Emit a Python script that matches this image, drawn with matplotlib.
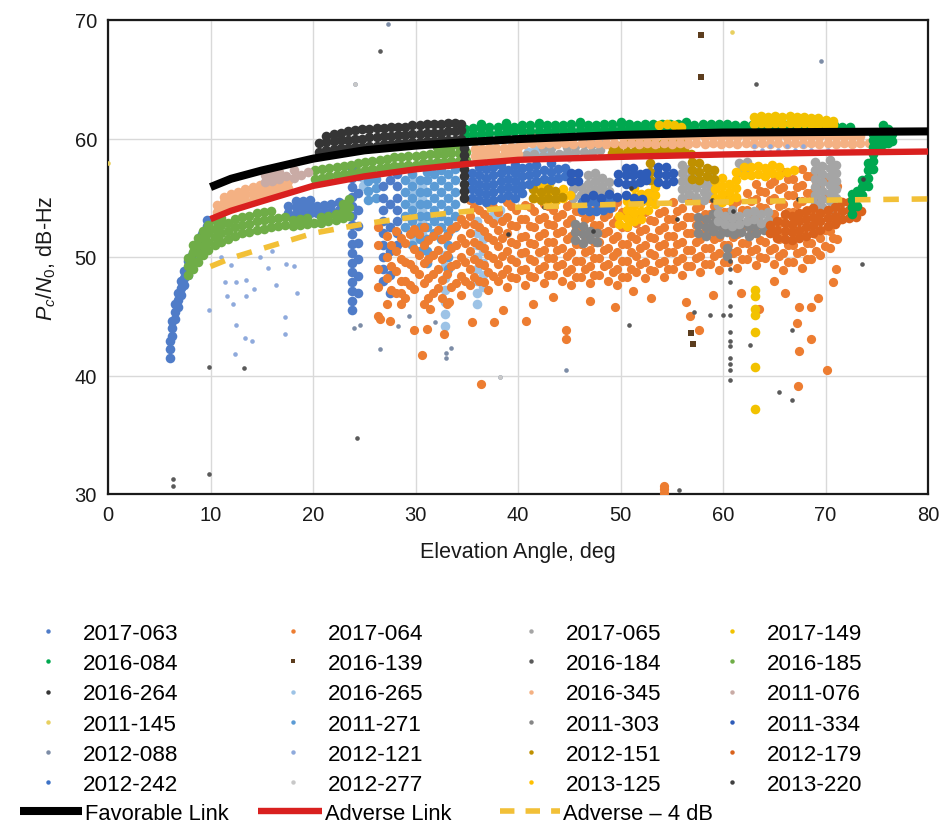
import matplotlib
matplotlib.use('Agg')
import matplotlib.pyplot as plt
from matplotlib.lines import Line2D

plt.rcParams['font.family'] = ['Liberation Sans', 'DejaVu Sans']
plt.rcParams['mathtext.fontset'] = 'custom'
plt.rcParams['mathtext.rm'] = 'Liberation Sans'
plt.rcParams['mathtext.it'] = 'Liberation Sans:italic'

# ---------------- axis text ----------------
x_ticks = [0, 10, 20, 30, 40, 50, 60, 70, 80]
y_ticks = [30, 40, 50, 60, 70]
x_label = 'Elevation Angle, deg'
y_label = r'$P_c/N_0$, dB-Hz'

# ---------------- reference curves ----------------
curve_x = [10, 12, 15, 20, 25, 30, 35, 40, 50, 60, 70, 80]
favorable_y = [55.9, 56.6, 57.3, 58.3, 59.0, 59.4, 59.7, 59.95, 60.3, 60.5, 60.55, 60.6]
adverse_y = [53.2, 53.9, 54.7, 56.0, 56.8, 57.4, 57.85, 58.2, 58.45, 58.65, 58.8, 58.9]
adverse4_y = [49.2, 49.9, 50.7, 52.0, 52.8, 53.4, 53.85, 54.2, 54.45, 54.65, 54.8, 54.9]
line_labels = ['Favorable Link', 'Adverse Link', 'Adverse \u2013 4 dB']

# ---------------- pass labels (legend order) ----------------
series_names = ['2017-063', '2017-064', '2017-065', '2017-149',
                '2016-084', '2016-139', '2016-184', '2016-185',
                '2016-264', '2016-265', '2016-345', '2011-076',
                '2011-145', '2011-271', '2011-303', '2011-334',
                '2012-088', '2012-121', '2012-151', '2012-179',
                '2012-242', '2012-277', '2013-125', '2013-220']

# ---------------- measured points: (elevation, [Pc/N0 values]) ----------------
s2017_063 = [
    (6.0, [41.5, 42.2, 42.9]), (6.2, [43.3, 44.0, 44.6]), (6.5, [44.8, 45.4, 46.0]),
    (6.8, [45.8, 46.4, 47.0]), (7.1, [46.8, 47.4, 48.0]), (7.4, [47.6, 48.2, 48.8]),
    (7.8, [48.5, 49.1, 49.7]), (8.2, [49.6, 50.2]), (8.7, [50.5, 51.1]),
    (9.2, [51.3, 51.9]), (9.7, [52.0, 52.6, 53.1]),
    (17.6, [53.7, 54.3]), (18.3, [53.6, 54.2, 54.7]), (19.0, [53.6, 54.2, 54.7]),
    (19.7, [53.7, 54.3, 54.8]), (20.4, [53.7, 54.3]), (21.1, [53.8, 54.4]),
    (21.8, [53.9, 54.5]), (22.5, [54.0, 54.6]),
    (23.8, [45.5, 46.3, 47.1, 47.9, 48.7, 49.5, 50.3, 51.1, 51.9, 52.7, 53.5, 54.3, 55.1, 55.9, 56.7, 57.5]),
    (24.4, [47.0, 48.4, 49.8, 51.2, 52.6, 54.0, 55.4, 56.8]),
    (26.8, [48.0, 49.0, 50.0, 51.0, 52.0, 53.0, 54.0, 55.0, 56.0]),
    (27.5, [47.0, 48.5, 50.5, 52.5, 54.5, 56.5]),
    (28.2, [51.0, 52.0, 53.0, 54.0, 55.0, 56.0, 57.0]),
]
s2017_064 = [
    (26.3, [45.0, 47.5, 49.0, 51.0, 52.5]), (27.2, [46.0, 48.2, 50.0, 51.8]),
    (28.1, [47.0, 48.8, 50.5, 52.2]), (29.0, [46.5, 48.0, 49.6, 51.2]),
    (29.9, [47.3, 49.0, 50.7, 52.4]), (30.8, [46.0, 47.8, 49.5, 51.0, 52.5]),
    (31.7, [47.0, 48.6, 50.2, 51.8]), (32.6, [46.5, 48.1, 49.8, 51.5]),
    (33.5, [47.5, 49.2, 50.8, 52.4]), (34.4, [46.8, 48.4, 50.0, 51.6, 53.2]),
    (35.3, [47.6, 49.0, 50.5, 52.0, 53.5, 54.8]), (36.2, [48.0, 49.5, 51.0, 52.5, 54.0]),
    (37.1, [47.2, 48.7, 50.2, 51.7, 53.2, 54.5]), (38.0, [48.0, 49.4, 50.9, 52.3, 53.8]),
    (38.9, [47.5, 49.0, 50.5, 52.0, 53.4, 54.6]), (39.8, [48.2, 49.6, 51.1, 52.6, 54.0]),
    (40.7, [47.6, 49.0, 50.4, 51.8, 53.2, 54.4]), (41.6, [48.3, 49.7, 51.1, 52.5, 53.9]),
    (42.5, [47.8, 49.2, 50.6, 52.0, 53.4, 54.5]), (43.4, [48.5, 49.9, 51.3, 52.7, 54.0]),
    (44.3, [48.0, 49.4, 50.8, 52.2, 53.6]), (45.2, [47.6, 49.0, 50.4, 51.8, 53.2, 54.5]),
    (46.1, [48.3, 49.7, 51.1, 52.5, 53.8]), (47.0, [47.8, 49.2, 50.6, 52.0, 53.4]),
    (47.9, [48.5, 49.9, 51.3, 52.7, 54.1]), (48.8, [48.0, 49.4, 50.8, 52.2, 53.6]),
    (49.7, [47.6, 49.0, 50.4, 51.8, 53.2, 54.6]), (50.6, [48.3, 49.7, 51.1, 52.5, 53.9]),
    (51.5, [48.7, 50.1, 51.5, 52.9]), (52.4, [48.2, 49.6, 51.0, 52.4, 53.8]),
    (53.3, [48.8, 50.2, 51.6, 53.0]), (54.2, [48.3, 49.7, 51.1, 52.5, 53.9]),
    (55.1, [49.0, 50.4, 51.8, 53.2, 54.6]), (56.0, [48.5, 49.9, 51.3, 52.7, 54.1]),
    (56.9, [49.2, 50.6, 52.0, 53.4, 54.8]), (57.8, [48.7, 50.1, 51.5, 52.9, 54.3]),
    (58.7, [49.4, 50.8, 52.2, 53.6, 55.0]), (59.6, [48.9, 50.3, 51.7, 53.1, 54.5]),
    (60.5, [49.6, 51.0, 52.4, 53.8, 55.2]), (61.4, [49.1, 50.5, 51.9, 53.3, 54.7]),
    (62.3, [49.8, 51.2, 52.6, 54.0, 55.4]), (63.2, [49.3, 50.7, 52.1, 53.5, 54.9, 56.2]),
    (64.1, [49.9, 51.3, 52.7, 54.1, 55.5, 56.8]), (65.0, [49.4, 50.8, 52.2, 53.6, 55.0, 56.4]),
    (65.9, [48.9, 50.3, 51.7, 53.1, 54.5, 55.9, 57.2]), (66.8, [49.6, 51.0, 52.4, 53.8, 55.2, 56.6]),
    (67.7, [49.1, 50.5, 51.9, 53.3, 54.7, 56.1, 57.4]), (68.6, [49.8, 51.2, 52.6, 54.0, 55.4, 56.8]),
    (69.5, [50.2, 51.6, 53.0, 54.4, 55.8, 57.2]), (70.4, [50.8, 52.2, 53.6, 55.0, 56.4]),
    (71.1, [51.5, 53.0, 54.5, 56.0]),
    (27.65, [47.2, 49.2, 51.0]), (28.55, [46.0, 48.0, 49.8, 51.6]), (29.45, [47.6, 49.4, 51.9]),
    (30.35, [48.6, 50.2, 51.9]), (31.25, [46.5, 48.2, 49.8, 51.4]), (32.15, [47.4, 49.0, 50.6, 52.3]),
    (33.05, [46.0, 48.6, 50.2, 51.8]), (33.95, [47.8, 49.4, 51.0, 52.6]),
    (34.85, [48.0, 49.6, 51.2, 52.8]), (35.75, [48.3, 49.8, 51.3, 52.8, 54.2]),
    (36.65, [47.9, 49.3, 50.8, 52.2, 53.6]), (37.55, [48.4, 49.9, 51.4, 52.9, 54.2]),
    (38.45, [48.6, 50.1, 51.6, 53.0]), (39.35, [48.3, 49.8, 51.3, 52.7, 54.3]),
    (40.25, [48.9, 50.3, 51.7, 53.2]), (41.15, [48.4, 49.8, 51.2, 52.6, 54.2]),
    (42.05, [49.0, 50.4, 51.8, 53.2]), (42.95, [48.5, 49.9, 51.3, 52.8, 54.3]),
    (43.85, [49.2, 50.6, 52.0, 53.4]), (44.75, [48.7, 50.1, 51.5, 52.9, 54.3]),
    (45.65, [48.3, 49.7, 51.1, 52.5, 53.9]), (46.55, [49.0, 50.4, 51.8, 53.2]),
    (47.45, [48.5, 49.9, 51.3, 52.7, 54.0]), (48.35, [49.2, 50.6, 52.0, 53.4]),
    (49.25, [48.7, 50.1, 51.5, 52.9, 54.2]), (50.15, [48.3, 49.7, 51.1, 52.5, 53.8]),
    (51.05, [49.0, 50.4, 51.8, 53.2]), (51.95, [49.4, 50.8, 52.2, 53.6]),
    (52.85, [48.9, 50.3, 51.7, 53.1]), (53.75, [49.5, 50.9, 52.3, 53.7]),
    (54.65, [49.0, 50.4, 51.8, 53.2]), (55.55, [49.7, 51.1, 52.5, 53.9]),
    (56.45, [49.2, 50.6, 52.0, 53.4]), (57.35, [49.9, 51.3, 52.7, 54.1]),
    (58.25, [49.4, 50.8, 52.2, 53.6]), (59.15, [50.1, 51.5, 52.9, 54.3]),
    (60.05, [49.6, 51.0, 52.4, 53.8]), (60.95, [50.3, 51.7, 53.1, 54.5]),
    (61.85, [49.8, 51.2, 52.6, 54.0]), (62.75, [50.5, 51.9, 53.3, 54.7]),
    (63.65, [50.0, 51.4, 52.8, 54.2, 55.6]), (64.55, [50.6, 52.0, 53.4, 54.8, 56.2]),
    (65.45, [50.1, 51.5, 52.9, 54.3, 55.7]), (66.35, [49.6, 51.0, 52.4, 53.8, 55.2, 56.6]),
    (67.25, [50.3, 51.7, 53.1, 54.5, 55.9]), (68.15, [49.8, 51.2, 52.6, 54.0, 55.4, 56.8]),
    (69.05, [50.5, 51.9, 53.3, 54.7, 56.1]), (69.95, [50.9, 52.3, 53.7, 55.1, 56.5]),
    (70.75, [51.6, 53.0, 54.4, 55.8]),
    (26.5, [44.8]), (27.5, [44.6]), (29.9, [43.8]), (31.1, [43.9]), (30.6, [41.7]),
    (36.4, [39.3]), (32.8, [43.5]), (35.5, [44.5]), (37.7, [44.5]), (28.6, [47.0]),
    (40.8, [44.6]), (44.7, [43.8, 43.1]), (51.2, [47.1]), (56.4, [46.2]), (67.2, [44.4]),
    (68.6, [43.1, 45.8]), (67.4, [42.1, 45.8]), (67.3, [39.1]), (70.1, [40.5]),
    (54.2, [30.1, 30.4, 30.7]), (70.7, [47.9]), (65.0, [48.0]), (38.5, [45.5]),
    (41.5, [46.0]), (47.0, [46.3]), (49.5, [45.8]), (53.0, [46.5]), (56.8, [45.0]),
    (59.0, [46.8]), (61.8, [47.0]), (63.5, [45.6]), (66.0, [47.0]), (69.3, [46.5]),
    (71.0, [49.0]), (33.3, [46.2]), (31.4, [45.6]), (43.4, [46.6]), (57.7, [43.8]),
]
s2017_065 = [
    (45.4, [55.0, 55.7, 56.4]), (46.1, [55.2, 55.9]), (46.8, [55.5, 56.2, 56.9]),
    (47.5, [55.0, 55.7, 56.4, 57.1]), (48.2, [55.3, 56.0, 56.7]), (48.9, [55.6, 56.3]),
    (53.0, [54.7, 55.4]), (56.0, [55.0, 55.7, 56.4, 57.1, 57.8]), (56.7, [55.3, 56.0, 56.7, 57.4]),
    (57.4, [55.1, 55.8, 56.5, 57.2]), (58.1, [54.8, 55.5, 56.2]), (58.8, [55.2, 55.9, 56.6, 57.3]),
    (59.5, [53.0, 53.7, 54.4]), (60.2, [52.8, 53.5]), (60.9, [52.6, 53.3, 54.0]),
    (61.6, [52.8, 53.5, 57.2, 57.9]), (62.3, [53.0, 53.7, 57.4, 58.0]), (63.0, [53.2, 53.9]),
    (63.7, [52.9, 53.6]), (64.4, [53.1, 53.8]),
    (69.0, [54.5, 55.2, 55.9, 56.6, 57.3, 58.0]), (69.7, [54.2, 54.9, 55.6, 56.3, 57.0, 57.7]),
    (70.4, [54.0, 54.7, 55.4, 56.1, 56.8, 57.5, 58.2]), (71.0, [55.0, 55.7, 56.4, 57.1, 57.8]),
    (40.8, [58.6]), (41.6, [58.7]), (42.4, [58.5, 59.2]), (43.2, [58.6, 59.2]), (44.0, [58.7]),
    (44.8, [58.8, 59.3]), (45.6, [58.9, 59.4]), (46.4, [58.9, 59.5]), (47.2, [58.9, 59.5]),
    (48.0, [59.0, 59.5]),
]
s2017_149 = [
    (63.0, [61.2, 61.8]), (63.7, [61.3, 61.9]), (64.4, [61.2, 61.8]), (65.1, [61.3, 61.9]),
    (65.8, [61.2, 61.8]), (66.5, [61.3, 61.9]), (67.2, [61.2, 61.8]), (67.9, [61.3, 61.8]),
    (68.6, [61.2, 61.7]), (69.3, [61.2, 61.7]), (70.0, [61.1, 61.6]), (70.7, [61.1, 61.5]),
    (53.8, [61.1]), (54.5, [61.2]), (55.2, [61.1]), (55.9, [61.0]),
    (63.1, [47.2, 46.7, 45.6, 45.1, 43.7, 40.7, 37.2]),
]
s2016_084 = [
    (34.8, [60.3, 60.8]), (35.6, [60.4, 60.9]), (36.4, [60.4, 60.9, 61.2]), (37.2, [60.5, 61.0]),
    (38.0, [60.5, 61.0]), (38.8, [60.5, 61.0, 61.3]), (39.6, [60.6, 61.0]), (40.4, [60.6, 61.1]),
    (41.2, [60.6, 61.1]), (42.0, [60.6, 61.1, 61.3]), (42.8, [60.6, 61.1]), (43.6, [60.7, 61.1]),
    (44.4, [60.7, 61.1]), (45.2, [60.7, 61.2]), (46.0, [60.7, 61.2, 61.4]), (46.8, [60.7, 61.1]),
    (47.6, [60.7, 61.1]), (48.4, [60.7, 61.2]), (49.2, [60.8, 61.2]), (50.0, [60.8, 61.2, 61.4]),
    (50.8, [60.8, 61.2]), (51.6, [60.8, 61.1]), (52.4, [60.8, 61.2]), (53.2, [60.8, 61.2]),
    (54.0, [60.8, 61.2]), (54.8, [60.8, 61.2]), (55.6, [60.8, 61.2]), (56.4, [60.8, 61.2, 61.4]),
    (57.2, [60.8, 61.1]), (58.0, [60.8, 61.2]), (58.8, [60.8, 61.2]), (59.6, [60.8, 61.2]),
    (60.4, [60.8, 61.2]), (61.2, [60.8, 61.1]), (62.0, [60.8, 61.1]), (62.8, [60.8, 61.1]),
    (63.6, [60.8, 61.1]), (64.4, [60.8, 61.1]), (65.2, [60.8, 61.1]), (66.0, [60.8, 61.1]),
    (66.8, [60.8, 61.1]), (67.6, [60.8, 61.1]), (68.4, [60.8, 61.1]), (69.2, [60.8, 61.1]),
    (70.0, [60.8, 61.1]), (70.8, [60.8, 61.1]), (71.6, [60.8, 61.0]), (72.4, [60.8, 61.0]),
    (72.6, [53.6, 54.2, 54.8, 55.3]), (73.1, [54.3, 55.0, 55.6]), (73.6, [55.2, 55.9, 56.5]),
    (74.1, [56.0, 56.7, 57.3, 57.9]), (74.6, [57.4, 58.1, 58.7, 59.3, 59.9, 60.4]),
    (75.1, [59.3, 59.9, 60.5]), (75.6, [59.5, 60.1, 60.7, 61.1]), (76.1, [59.6, 60.2, 60.8]),
    (76.5, [59.8, 60.4]),
]
s2016_139 = [(57.9, [68.7, 65.2]), (56.9, [43.6]), (57.1, [42.7])]
s2016_184 = [
    (26.5, [67.4]), (63.2, [64.6]),
    (60.7, [49.7, 49.0, 47.9, 45.9, 45.1, 43.7, 42.9, 42.5, 41.5, 41.0, 40.5, 39.6]),
    (66.7, [43.8, 37.9]), (65.5, [38.6]), (73.6, [49.4]), (24.3, [34.7]), (9.9, [31.7, 40.7]),
    (6.3, [31.3, 30.7]), (13.3, [40.6]), (55.7, [30.3]), (50.8, [44.3]), (58.7, [45.1]),
    (60.0, [45.1]), (62.6, [42.6]), (57.2, [45.4]),
]
s2016_185 = [
    (7.8, [48.5, 49.2, 49.9]), (8.3, [49.0, 49.7, 50.4, 51.0]), (8.8, [49.6, 50.3, 51.0, 51.6]),
    (9.3, [50.2, 50.9, 51.6, 52.2]), (9.8, [50.6, 51.3, 52.0, 52.7]), (10.4, [51.0, 51.7, 52.4, 53.1]),
    (11.0, [51.3, 52.0, 52.7, 53.3]), (11.7, [51.5, 52.2, 52.9]), (12.4, [51.8, 52.5, 53.2]),
    (13.1, [52.0, 52.7, 53.4]), (13.8, [52.1, 52.8, 53.5]), (14.5, [52.3, 53.0, 53.7]),
    (15.2, [52.4, 53.1, 53.8]), (15.9, [52.5, 53.2, 53.9]), (16.6, [52.6, 53.3]),
    (17.3, [52.7, 53.4]), (18.0, [52.6, 53.1]), (18.7, [52.7, 53.2]), (19.4, [52.8, 53.3]),
    (20.1, [52.9]), (20.8, [52.9, 53.4]), (21.5, [53.0, 53.5]), (22.2, [53.1, 53.6]),
    (22.9, [53.3, 53.9, 54.5]), (23.5, [53.5, 54.2, 54.9]),
    (20.2, [56.6, 57.3]), (20.9, [56.7, 57.4]), (21.6, [56.8, 57.5]), (22.3, [56.9, 57.6]),
    (23.0, [57.0, 57.7]), (23.7, [57.1, 57.8]), (24.4, [57.2, 57.9]), (25.1, [57.3, 58.0]),
    (25.8, [57.4, 58.1]), (26.5, [57.5, 58.2]), (27.2, [57.6, 58.3]), (27.9, [57.7, 58.4]),
    (28.6, [57.7, 58.4]), (29.3, [57.8, 58.5]), (30.0, [57.8, 58.5]), (30.7, [57.9, 58.6]),
    (31.4, [57.9, 58.7]), (32.1, [58.0, 58.7, 59.3]), (32.8, [58.0, 58.7, 59.3]),
    (33.5, [58.1, 58.8, 59.4]), (34.2, [58.1, 58.8, 59.4]), (34.9, [58.2, 58.9]),
]
s2016_264 = [
    (20.6, [58.9, 59.6]), (21.3, [59.0, 59.7, 60.2]), (22.0, [59.1, 59.8, 60.4]),
    (22.7, [59.2, 59.9, 60.5]), (23.4, [59.2, 59.9, 60.6]), (24.1, [59.3, 60.0, 60.7]),
    (24.8, [59.3, 60.0, 60.8]), (25.5, [59.4, 60.1, 60.8]), (26.2, [59.4, 60.1, 60.9]),
    (26.9, [59.5, 60.2, 60.9]), (27.6, [59.5, 60.2, 61.0]), (28.3, [59.6, 60.3, 61.0]),
    (29.0, [59.6, 60.3, 61.0]), (29.7, [59.7, 60.4, 61.1]), (30.4, [59.7, 60.4, 61.1]),
    (31.1, [59.8, 60.5, 61.2]), (31.8, [59.8, 60.5, 61.2]), (32.5, [59.9, 60.5, 61.2]),
    (33.2, [59.9, 60.6, 61.3]), (33.9, [59.9, 60.6, 61.3]), (34.4, [60.0, 60.7, 61.2]),
    (34.7, [55.0, 55.6, 56.2, 56.8, 57.4, 58.0, 58.6, 59.2]),
]
s2016_265 = [
    (29.9, [51.4, 52.4, 53.4, 54.4, 55.4, 56.4]), (30.6, [51.9, 52.9, 53.9, 54.9, 55.9]),
    (32.9, [44.2, 45.2, 46.2, 47.2, 48.2, 49.2, 50.2]),
    (36.0, [46.0, 47.0, 48.0, 49.0, 50.0, 51.0, 52.0, 53.0]), (36.6, [47.5, 48.5, 49.5, 50.5, 51.5]),
    (24.9, [56.0, 56.7]), (41.0, [58.4, 58.9]), (41.7, [58.5, 59.0]), (42.4, [58.9]),
    (37.5, [53.5, 54.2]), (38.2, [53.3, 54.0]),
]
s2016_345 = [
    (10.6, [53.8, 54.4]), (11.3, [54.0, 54.6, 55.1]), (12.0, [54.2, 54.8, 55.3]),
    (12.7, [54.4, 55.0, 55.5]), (13.4, [54.6, 55.2, 55.7]), (14.1, [54.8, 55.4, 55.9]),
    (14.8, [55.0, 55.6, 56.1]), (15.5, [55.2, 55.8]), (16.2, [55.4, 56.0]),
    (16.9, [55.6, 56.2]), (17.6, [55.8, 56.4]),
    (35.8, [58.5, 59.1]), (36.5, [58.5, 59.1]), (37.2, [58.6, 59.2]), (37.9, [58.6, 59.2]),
    (38.6, [58.6, 59.2]), (39.3, [58.7, 59.3]), (40.0, [58.7, 59.3]),
    (40.6, [59.5, 60.1]), (41.4, [59.6, 60.2]), (42.2, [59.5, 60.1]), (43.0, [59.6, 60.2]),
    (43.8, [59.5, 60.1]), (44.6, [59.6, 60.2]), (45.4, [59.5, 60.1]), (46.2, [59.6, 60.2]),
    (47.0, [59.5, 60.1]), (47.8, [59.6, 60.2]), (48.6, [59.5, 60.1]), (49.4, [59.6, 60.2]),
    (50.2, [59.5, 60.1]), (51.0, [59.6, 60.2]), (51.8, [59.5, 60.1]), (52.6, [59.6, 60.2]),
    (53.4, [59.5, 60.1]), (54.2, [59.6, 60.2]), (55.0, [59.5, 60.1]), (55.8, [59.6, 60.2]),
    (56.6, [59.5, 60.1]), (57.4, [59.6, 60.2]), (58.2, [59.5, 60.1]), (59.0, [59.6, 60.2]),
    (59.8, [59.5, 60.1]), (60.6, [59.6, 60.2]), (61.4, [59.5, 60.1]), (62.2, [59.6, 60.2]),
    (63.0, [59.5, 60.1]), (63.8, [59.6, 60.2]), (64.6, [59.5, 60.1]), (65.4, [59.6, 60.2]),
    (66.2, [59.5, 60.1]), (67.0, [59.6, 60.2]), (67.8, [59.5, 60.1]), (68.6, [59.6, 60.2]),
    (69.4, [59.5, 60.1]), (70.2, [59.6, 60.2]), (71.0, [59.5, 60.1]), (71.8, [59.6, 60.2]),
    (72.6, [59.5, 60.1]), (73.4, [59.6, 60.2]), (74.2, [59.6]),
]
s2011_076 = [
    (15.3, [56.3, 56.9]), (16.0, [56.4, 57.0]), (16.7, [56.6, 57.2]), (17.4, [56.8]),
    (18.1, [56.7, 57.3]), (18.8, [56.9]), (19.5, [57.2]),
]
s2011_145 = [(0.0, [57.9]), (60.9, [69.0])]
s2011_271 = [
    (29.0, [52.5, 53.5, 54.5, 55.5, 56.5]), (29.7, [51.0, 52.0, 53.0, 54.0, 55.0, 56.0, 57.0]),
    (30.4, [50.5, 51.5, 52.5, 53.5, 54.5, 55.5, 56.5]),
    (31.1, [49.5, 50.5, 51.5, 52.5, 53.5, 54.5, 55.5, 56.5, 57.2]),
    (31.8, [52.0, 53.0, 54.0, 55.0, 56.0, 57.0]), (32.5, [51.5, 52.5, 53.5, 54.5, 55.5, 56.5, 57.3]),
    (33.2, [49.0, 50.0, 51.0, 52.0, 53.0, 54.0, 55.0, 56.0, 57.0]),
    (33.9, [52.5, 53.5, 54.5, 55.5, 56.5, 57.4]),
    (25.4, [54.8, 55.6, 56.4]), (26.1, [55.0, 55.8, 56.6]),
]
s2011_303 = [
    (45.6, [51.4, 52.1, 52.8]), (46.3, [51.2, 51.9, 52.6]), (47.0, [51.5, 52.2]), (47.7, [51.3, 52.0]),
    (57.6, [52.0, 52.7, 53.4]), (58.3, [51.8, 52.5, 53.2]), (59.0, [52.2, 52.9, 53.6]),
    (59.7, [51.9, 52.6, 53.3]), (60.4, [50.1, 50.8, 52.1, 52.8, 53.5]), (61.1, [51.9, 52.6, 53.3]),
    (61.8, [52.1, 52.8]), (62.5, [51.8, 52.5]), (63.2, [52.0, 52.7]), (64.0, [52.3]),
]
s2011_334 = [
    (45.2, [56.4, 57.1]), (45.9, [56.4, 57.1]), (49.8, [56.3, 57.0]), (50.5, [56.2, 56.9, 57.5]),
    (51.2, [56.2, 56.9, 57.5]), (51.9, [56.3, 57.0]), (52.5, [56.5, 57.1]),
    (53.7, [56.3, 57.0, 57.6]), (54.4, [56.2, 56.9, 57.6]), (55.1, [56.4, 57.1]),
    (46.5, [55.0]), (47.3, [55.2]), (48.1, [55.0]), (48.9, [55.3]), (49.7, [55.1]),
    (50.5, [55.2]), (51.3, [55.0]), (52.1, [54.9]),
]
s2012_088 = [
    (24.1, [64.6]), (27.3, [69.7]), (69.6, [66.5]), (38.2, [39.9]), (44.7, [40.5]),
    (33.0, [41.5, 41.9]), (33.5, [42.3]), (26.5, [42.2]), (28.3, [44.2]), (24.0, [44.0]),
    (24.6, [44.3]), (29.4, [45.0]), (31.9, [44.5]),
]
s2012_121 = [
    (11.4, [47.9]), (12.5, [47.9, 44.3]), (13.5, [48.1, 46.7]), (11.6, [46.7]), (12.2, [46.0]),
    (14.2, [47.3]), (15.6, [49.1]), (16.4, [47.6]), (17.4, [49.4]), (18.1, [49.2]),
    (17.3, [44.9, 43.5]), (13.4, [43.2]), (14.0, [42.9]), (12.4, [41.8]), (9.9, [45.5]),
    (18.4, [47.0]), (11.0, [50.0]), (14.8, [50.0]), (16.0, [50.5]), (12.0, [49.3]),
    (63.0, [58.9, 59.4]), (63.8, [59.0]), (64.6, [58.9, 59.4]), (65.4, [59.0]),
    (66.2, [58.9, 59.4]), (67.0, [59.0]), (67.8, [58.9, 59.4]), (68.6, [59.0]),
    (69.4, [58.9]), (70.2, [59.0]),
]
s2012_151 = [
    (49.2, [58.8, 59.4]), (49.9, [58.8, 59.4]), (50.6, [58.9, 59.5]), (51.3, [58.9, 59.5]),
    (52.0, [58.9, 59.5]), (52.7, [59.0, 59.6]), (53.4, [59.0, 59.6]), (54.1, [59.0, 59.6]),
    (54.8, [59.0, 59.6]), (55.5, [59.1, 59.7]), (56.2, [59.1, 59.7]), (56.9, [58.7]),
    (52.9, [56.5, 57.2, 57.9]), (53.6, [56.4, 57.1]), (57.0, [56.6, 57.3, 58.0]),
    (57.7, [56.5, 57.2, 57.9]), (58.4, [56.8, 57.5]), (59.1, [56.6, 57.3]),
    (41.5, [55.0, 55.7]), (42.2, [54.8, 55.5]), (42.9, [55.0, 55.7]), (43.6, [54.9, 55.6]),
    (44.3, [55.1]),
]
s2012_179 = [
    (64.6, [52.0, 52.7]), (65.3, [51.6, 52.3, 53.0]), (66.0, [51.5, 52.2, 52.9, 53.6]),
    (66.7, [51.4, 52.1, 52.8, 53.5]), (67.4, [51.6, 52.3, 53.0, 53.7]),
    (68.1, [51.8, 52.5, 53.2, 53.9]), (68.8, [52.0, 52.7, 53.4, 54.1]),
    (69.5, [52.3, 53.0, 53.7]), (70.2, [52.6, 53.3, 54.0]), (70.9, [52.8, 53.5, 54.2]),
    (71.6, [53.2, 53.9, 54.6]), (72.3, [53.3, 54.0, 54.6]), (73.0, [53.4, 54.1]), (73.5, [53.9]),
]
s2012_242 = [
    (35.5, [55.0, 55.7, 56.4, 57.1]), (36.2, [54.8, 55.5, 56.2, 56.9, 57.6]),
    (36.9, [54.6, 55.3, 56.0, 56.7, 57.4]), (37.6, [54.8, 55.5, 56.2, 56.9, 57.6]),
    (38.3, [55.0, 55.7, 56.4, 57.1, 57.8]), (39.0, [55.2, 55.9, 56.6, 57.3]),
    (39.7, [55.0, 55.7, 56.4, 57.1, 57.8]), (40.4, [55.4, 56.1, 56.8, 57.5]),
    (41.1, [56.2, 56.9, 57.6]), (41.8, [56.4, 57.1, 57.8]), (42.5, [56.6, 57.3]),
    (43.2, [56.5, 57.2, 57.9]), (43.9, [56.7, 57.4]), (44.6, [56.8, 57.5]),
    (46.2, [54.0, 54.6]), (46.9, [53.9, 54.6]), (47.6, [53.9, 54.6]), (48.3, [54.0, 54.7]),
    (49.0, [54.1, 54.7]),
]
s2012_277 = [(24.1, [64.6]), (38.2, [39.9]), (45.0, [58.2])]
s2013_125 = [
    (41.6, [55.0, 55.7]), (42.3, [54.8, 55.5, 56.2]), (43.0, [54.9, 55.6, 56.2]),
    (43.7, [54.8, 55.5]), (44.4, [55.0, 55.7]), (45.1, [55.2]),
    (49.9, [52.8, 53.5]), (50.6, [52.6, 53.3, 54.0, 54.7]), (51.3, [53.0, 53.7, 54.4, 55.1, 55.8]),
    (52.0, [53.2, 53.9, 54.6, 55.3]), (52.7, [54.0, 54.7, 55.4]), (53.4, [54.5, 55.2, 55.9]),
    (59.2, [55.0, 55.7, 56.4]), (59.9, [54.6, 55.3, 56.0, 56.7]), (60.6, [54.8, 55.5, 56.2]),
    (61.3, [55.1, 55.8, 56.5, 57.2]), (62.0, [56.9, 57.6]), (62.7, [56.9, 57.6]),
    (63.4, [57.0, 57.7]), (64.1, [56.8, 57.5]), (64.8, [57.1, 57.8]), (65.5, [56.9, 57.6]),
    (66.2, [57.2]), (66.9, [57.3]),
]
s2013_220 = [
    (42.5, [54.2]), (51.0, [55.8]), (58.9, [54.8]), (67.3, [54.9]), (73.7, [56.6]),
    (47.3, [52.2]), (61.0, [53.9]), (55.5, [53.2]), (39.0, [51.9]),
]

series_points = {
    '2017-063': s2017_063, '2017-064': s2017_064, '2017-065': s2017_065, '2017-149': s2017_149,
    '2016-084': s2016_084, '2016-139': s2016_139, '2016-184': s2016_184, '2016-185': s2016_185,
    '2016-264': s2016_264, '2016-265': s2016_265, '2016-345': s2016_345, '2011-076': s2011_076,
    '2011-145': s2011_145, '2011-271': s2011_271, '2011-303': s2011_303, '2011-334': s2011_334,
    '2012-088': s2012_088, '2012-121': s2012_121, '2012-151': s2012_151, '2012-179': s2012_179,
    '2012-242': s2012_242, '2012-277': s2012_277, '2013-125': s2013_125, '2013-220': s2013_220,
}

# ---------------- styles ----------------
colors = {
    '2017-063': '#4F7CC8', '2017-064': '#ED7D31', '2017-065': '#A5A5A5', '2017-149': '#F2C200',
    '2016-084': '#00A84F', '2016-139': '#5C3D1E', '2016-184': '#5A5A5A', '2016-185': '#6FAD47',
    '2016-264': '#353535', '2016-265': '#9DC3E6', '2016-345': '#F4B183', '2011-076': '#C9ABA5',
    '2011-145': '#E8D060', '2011-271': '#5B9BD5', '2011-303': '#868686', '2011-334': '#2E5CB8',
    '2012-088': '#7C8CA6', '2012-121': '#8FAADC', '2012-151': '#BF9000', '2012-179': '#D9621C',
    '2012-242': '#3D72C6', '2012-277': '#C8C8C8', '2013-125': '#FFC000', '2013-220': '#404040',
}
sparse = {'2016-184', '2016-139', '2011-145', '2012-088', '2012-277', '2013-220', '2012-121'}
draw_order = ['2016-265', '2011-271', '2017-063', '2012-121', '2017-064', '2011-303', '2017-065',
              '2013-125', '2012-151', '2012-242', '2011-334', '2012-179', '2016-185', '2016-345',
              '2011-076', '2016-084', '2016-264', '2017-149', '2016-184', '2016-139', '2011-145',
              '2012-088', '2012-277', '2013-220']


def expand(cols):
    xs, ys = [], []
    for x, yl in cols:
        for y in yl:
            xs.append(x)
            ys.append(y)
    return xs, ys


fig = plt.figure(figsize=(9.44, 8.28), dpi=100)
ax = fig.add_axes([108 / 944, 1 - 495 / 828, (928 - 108) / 944, (495 - 21) / 828])

for name in draw_order:
    xs, ys = expand(series_points[name])
    if name == '2016-139':
        ax.scatter(xs, ys, s=22, marker='s', color=colors[name], linewidths=0, zorder=4)
    elif name in sparse:
        ax.scatter(xs, ys, s=11, color=colors[name], linewidths=0, zorder=4)
    else:
        size = 44 if name == '2017-064' else 48
        ax.scatter(xs, ys, s=size, color=colors[name], linewidths=0, zorder=3)

ax.plot(curve_x, favorable_y, color='black', lw=5.8, solid_capstyle='butt', zorder=6)
ax.plot(curve_x, adverse_y, color='#D9201F', lw=4.6, solid_capstyle='butt', zorder=6)
ax.plot(curve_x, adverse4_y, color='#F2C037', lw=4.0, dashes=(2.8, 2.3),
        dash_capstyle='butt', zorder=6)

ax.set_xlim(0, 80)
ax.set_ylim(30, 70)
ax.set_xticks(x_ticks)
ax.set_yticks(y_ticks)
ax.tick_params(length=0, labelsize=14.5, pad=8, colors='#1a1a1a')
ax.grid(True, color='#D9D9D9', lw=1.0, zorder=0)
ax.set_axisbelow(True)
for sp in ax.spines.values():
    sp.set_color('#1a1a1a')
    sp.set_linewidth(1.6)
ax.set_xlabel(x_label, fontsize=15.5, labelpad=12, color='#1a1a1a')
ax.set_ylabel(y_label, fontsize=15.5, labelpad=12, color='#1a1a1a')

# ---------------- legend: 4 columns of passes ----------------
col_marker_px = [48, 293, 531, 732]
fs_leg = 16.2
fs_px = fs_leg * 100 / 72
for c in range(4):
    names = series_names[c::4]
    handles = []
    for n in names:
        mk = 's' if n == '2016-139' else 'o'
        handles.append(Line2D([], [], ls='none', marker=mk, markersize=3.2,
                              color=colors[n], markeredgewidth=0))
    left = col_marker_px[c] - 0.5 * fs_px
    fig.legend(handles, names, loc='upper left',
               bbox_to_anchor=(left / 944, 1 - 624 / 828),
               frameon=False, fontsize=fs_leg, handlelength=1.0, handletextpad=1.05,
               labelspacing=0.41, borderpad=0, borderaxespad=0)

# ---------------- legend: reference lines ----------------
line_handles = [
    Line2D([], [], color='black', lw=5.8, solid_capstyle='butt'),
    Line2D([], [], color='#D9201F', lw=4.6, solid_capstyle='butt'),
    Line2D([], [], color='#F2C037', lw=4.0, dashes=(2.6, 2.0), dash_capstyle='butt'),
]
line_left_px = [20, 258, 500]
line_len = [62, 64, 60]
fs_line = 15.8
fs_line_px = fs_line * 100 / 72
for h, lab, lx, ll in zip(line_handles, line_labels, line_left_px, line_len):
    fig.legend([h], [lab], loc='upper left', bbox_to_anchor=(lx / 944, 1 - 804 / 828),
               frameon=False, fontsize=fs_line, handlelength=ll / fs_line_px, handletextpad=0.12,
               borderpad=0, borderaxespad=0)

fig.savefig('out.png', dpi=100)
